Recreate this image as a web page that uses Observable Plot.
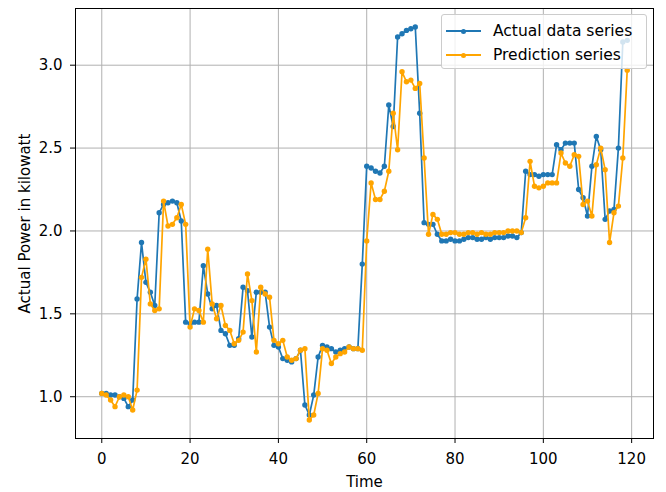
<!DOCTYPE html>
<html>
<head>
<meta charset="utf-8">
<script src="https://cdn.jsdelivr.net/npm/d3@7"></script>
<script src="https://cdn.jsdelivr.net/npm/@observablehq/plot@0.6"></script>
<style>
  html, body { margin: 0; padding: 0; background: white; }
  #wrap { position: relative; width: 666px; height: 492px; font-family: "DejaVu Sans", sans-serif; }
  #legend { position: absolute; left: 441px; top: 14px; width: 206px; height: 55px; box-sizing: border-box;
    border: 1px solid #cccccc; border-radius: 3px; background: rgba(255,255,255,0.8); font-size: 15.5px; color: #000; }
  .row { position: absolute; left: 0; height: 20px; display: flex; align-items: center; white-space: nowrap; }
  .sw { position: relative; width: 35px; height: 20px; margin-left: 4px; margin-right: 12px; }
  .sw .ln { position: absolute; left: 0; right: 0; top: 9px; height: 2px; }
  .sw .dt { position: absolute; left: 14.5px; top: 7.5px; width: 5px; height: 5px; border-radius: 50%; }
</style>
</head>
<body>
<div id="wrap"></div>
<script>
const actualSeries = [1.02,1.02,1.01,1.01,1.00,0.99,0.94,0.98,1.59,1.93,
1.69,1.63,1.55,2.11,2.16,2.17,2.18,2.17,2.06,1.45,
1.44,1.45,1.45,1.79,1.62,1.53,1.55,1.40,1.38,1.31,
1.31,1.35,1.66,1.64,1.36,1.63,1.63,1.63,1.42,1.31,
1.30,1.23,1.22,1.21,1.23,1.28,0.95,0.89,1.01,1.24,
1.31,1.30,1.29,1.27,1.28,1.29,1.30,1.29,1.29,1.80,
2.39,2.38,2.36,2.35,2.39,2.76,2.63,3.17,3.19,3.21,
3.22,3.23,2.71,2.05,2.04,2.04,1.98,1.94,1.94,1.95,
1.94,1.94,1.95,1.96,1.96,1.95,1.95,1.96,1.95,1.96,
1.96,1.96,1.97,1.97,1.96,1.99,2.36,2.34,2.34,2.33,
2.34,2.34,2.34,2.52,2.49,2.53,2.53,2.53,2.25,2.20,
2.09,2.39,2.57,2.49,2.07,2.12,2.13,2.50,3.14,3.15];

const predictionSeries = [1.02,1.01,0.98,0.94,1.00,1.01,1.00,0.92,1.04,1.72,
1.83,1.56,1.52,1.53,2.18,2.03,2.04,2.08,2.16,2.04,
1.42,1.53,1.52,1.45,1.89,1.56,1.47,1.55,1.43,1.40,
1.32,1.34,1.39,1.74,1.58,1.27,1.66,1.62,1.60,1.34,
1.32,1.34,1.24,1.22,1.23,1.28,1.29,0.86,0.89,1.02,
1.29,1.28,1.20,1.24,1.26,1.27,1.30,1.29,1.29,1.28,
1.94,2.29,2.19,2.19,2.24,2.36,2.71,2.49,2.96,2.90,
2.91,2.86,2.89,2.44,1.98,2.10,2.07,1.98,1.98,1.99,
1.99,1.98,1.98,1.99,1.99,1.98,1.99,1.98,1.98,1.99,
1.99,1.99,2.00,2.00,2.00,1.99,2.08,2.42,2.27,2.26,
2.27,2.29,2.29,2.29,2.47,2.41,2.39,2.46,2.45,2.16,
2.18,2.09,2.40,2.50,2.37,1.93,2.11,2.15,2.44,2.97];

const seriesNames = ["Actual data series", "Prediction series"];
const seriesColors = ["#1f77b4", "#ffa500"];
const xTicks = [0, 20, 40, 60, 80, 100, 120];
const yTicks = [1.0, 1.5, 2.0, 2.5, 3.0];
const xLabel = "Time";
const yLabel = "Actual Power in kilowatt";

const actual = actualSeries.map((v, i) => ({t: i, v}));
const pred = predictionSeries.map((v, i) => ({t: i, v}));

const chart = Plot.plot({
  width: 666,
  height: 492,
  marginLeft: 75,
  marginRight: 13,
  marginTop: 8,
  marginBottom: 54,
  style: {fontFamily: "DejaVu Sans", fontSize: "15px", color: "#000", background: "white"},
  x: {domain: [-5.95, 124.95]},
  y: {domain: [0.748, 3.342]},
  marks: [
    Plot.gridX(xTicks, {stroke: "#b0b0b0", strokeOpacity: 1, strokeWidth: 1}),
    Plot.gridY(yTicks, {stroke: "#b0b0b0", strokeOpacity: 1, strokeWidth: 1}),
    Plot.line(actual, {x: "t", y: "v", stroke: seriesColors[0], strokeWidth: 1.7}),
    Plot.dot(actual, {x: "t", y: "v", r: 2.7, fill: seriesColors[0], stroke: null}),
    Plot.line(pred, {x: "t", y: "v", stroke: seriesColors[1], strokeWidth: 1.7}),
    Plot.dot(pred, {x: "t", y: "v", r: 2.7, fill: seriesColors[1], stroke: null}),
    Plot.frame({stroke: "#000", strokeWidth: 1}),
    Plot.axisX({ticks: xTicks, tickSize: 5, tickPadding: 10, fontSize: 15, label: xLabel, labelAnchor: "center", labelArrow: "none", labelOffset: 48}),
    Plot.axisY({ticks: yTicks, tickFormat: d3.format(".1f"), tickSize: 5, tickPadding: 8, fontSize: 15, label: yLabel, labelAnchor: "center", labelArrow: "none", labelOffset: 56})
  ]
});

const wrap = document.getElementById("wrap");
wrap.appendChild(chart);

const legend = document.createElement("div");
legend.id = "legend";
seriesNames.forEach((name, k) => {
  const row = document.createElement("div");
  row.className = "row";
  row.style.top = (6 + k * 24) + "px";
  const sw = document.createElement("div");
  sw.className = "sw";
  const ln = document.createElement("div");
  ln.className = "ln";
  ln.style.background = seriesColors[k];
  const dt = document.createElement("div");
  dt.className = "dt";
  dt.style.background = seriesColors[k];
  sw.appendChild(ln); sw.appendChild(dt);
  const tx = document.createElement("span");
  tx.textContent = name;
  row.appendChild(sw); row.appendChild(tx);
  legend.appendChild(row);
});
wrap.appendChild(legend);
</script>
</body>
</html>
